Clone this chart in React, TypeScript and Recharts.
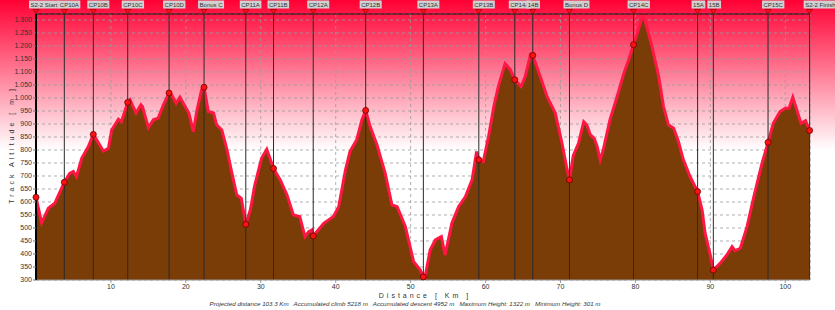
import React from 'react';
import { ComposedChart, Area, XAxis, YAxis, CartesianGrid, ReferenceLine, ReferenceDot } from 'recharts';

const profileKm = [
  0, 0.76, 1.65, 2.5, 3.78, 4.5, 4.98, 5.4, 6.1, 6.99, 7.65, 8.99, 9.66, 10.1, 11.0, 11.4, 12.24, 12.55, 13.35, 14.0,
  14.2, 15.0, 15.66, 16.3, 17.0, 17.76, 18.1, 18.7, 19.2, 19.9, 20.4, 21.0, 21.45, 22.1, 22.43, 23.0, 23.7, 24.1, 24.8, 25.5,
  26.1, 26.8, 27.4, 28.0, 28.6, 29.2, 30.1, 30.8, 31.7, 32.6, 33.5, 34.35, 35.2, 35.9, 36.4, 36.8, 37.0, 38.4, 39.7, 40.4,
  41.3, 41.9, 42.8, 43.5, 44.0, 44.6, 45.5, 46.6, 47.5, 48.2, 49.3, 50.4, 51.3, 51.7, 51.85, 52.6, 53.3, 54.1, 54.6, 55.5,
  56.4, 57.3, 58.2, 58.8, 59.1, 59.7, 60.4, 61.1, 61.7, 62.6, 63.3, 63.9, 64.75, 65.3, 66.0, 66.3, 67.3, 68.2, 69.3, 70.2,
  70.8, 71.2, 71.7, 72.4, 73.1, 73.5, 74.0, 74.5, 74.9, 75.3, 75.7, 76.6, 77.5, 78.4, 79.1, 79.75, 80.4, 81.0, 81.5, 82.2,
  83.1, 83.75, 84.4, 85.1, 85.75, 86.4, 87.3, 88.3, 88.9, 89.3, 90.0, 90.4, 91.3, 92.2, 92.9, 93.3, 94.0, 94.9, 95.8, 96.9,
  97.7, 98.4, 99.3, 100.0, 100.5, 101.0, 101.6, 102.1, 102.7, 103.25,
];
const profileElev = [
  618, 520, 576, 595, 676, 710, 717, 697, 768, 813, 860, 796, 806, 877, 918, 909, 983, 993, 942, 974,
  967, 886, 916, 922, 974, 1019, 1012, 980, 1003, 967, 942, 871, 948, 1032, 1041, 948, 942, 897, 877, 800,
  717, 627, 614, 514, 569, 665, 768, 803, 729, 685, 627, 550, 544, 467, 486, 492, 469, 518, 544, 582,
  723, 794, 839, 916, 952, 890, 820, 711, 589, 582, 505, 370, 338, 312, 301, 415, 454, 467, 396, 518,
  582, 620, 685, 794, 762, 756, 852, 967, 1044, 1132, 1109, 1070, 1044, 1083, 1167, 1164, 1083, 1006, 942, 826,
  736, 685, 778, 826, 909, 897, 858, 845, 813, 762, 800, 916, 1000, 1090, 1147, 1205, 1263, 1322, 1276, 1199,
  1083, 967, 897, 884, 832, 762, 697, 640, 569, 480, 395, 338, 364, 396, 428, 413, 422, 505, 620, 749,
  829, 903, 948, 961, 961, 1003, 948, 903, 913, 875,
];

const cpNames = [
  'S2-2 Start', 'CP10A', 'CP10B', 'CP10C', 'CP10D', 'Bonus C', 'CP11A', 'CP11B', 'CP12A', 'CP12B',
  'CP13A', 'CP13B', 'CP14A', '14B', 'Bonus D', 'CP14C', '15A', '15B', 'CP15C', 'S2-2 Finish',
];
const cpKm = [0, 3.78, 7.65, 12.24, 17.76, 22.43, 28.0, 31.7, 37.0, 44.0, 51.7, 59.1, 63.9, 66.3, 71.2, 79.75, 88.3, 90.4, 97.7, 103.25];
const cpElev = [618, 676, 860, 983, 1019, 1041, 514, 729, 469, 952, 312, 762, 1070, 1164, 685, 1205, 640, 338, 829, 875];

const xTicks = [10, 20, 30, 40, 50, 60, 70, 80, 90, 100];
const yTicks = [300, 350, 400, 450, 500, 550, 600, 650, 700, 750, 800, 850, 900, 950, 1000, 1050, 1100, 1150, 1200, 1250, 1300];

const statsText = 'Projected distance 103.3 Km   Accumulated climb 5218 m   Accumulated descent 4952 m   Maximum Height: 1322 m   Minimum Height: 301 m';

const data = profileKm.map((km, i) => ({ km, elev: profileElev[i] }));

const FONT = '"Liberation Sans", Arial, sans-serif';
const LABEL_FS = 6;

const labelShift: Record<string, number> = { 'S2-2 Start': -1, '14B': -0.5 };

let measureCtx: CanvasRenderingContext2D | null = null;
function textWidth(s: string) {
  try {
    if (!measureCtx) measureCtx = document.createElement('canvas').getContext('2d');
    if (measureCtx) {
      measureCtx.font = `${LABEL_FS}px "Liberation Sans", Arial, sans-serif`;
      return measureCtx.measureText(s).width;
    }
  } catch (e) {
    /* ignore */
  }
  return s.length * 3.3;
}

function CpLabel(props: any) {
  const { viewBox, name } = props;
  if (!viewBox) return null;
  const x = viewBox.x;
  const w = textWidth(name) + 3;
  const start = x - 6 + (labelShift[name] || 0);
  return (
    <g>
      <rect x={start} y={0.5} width={w} height={8} fill="#d0d0d0" />
      <text x={start + 1.5} y={6.8} fontSize={LABEL_FS} fill="#333" fontFamily={FONT}>{name}</text>
      <polygon points={`${x - 3},9.5 ${x + 3},9.5 ${x},13.5`} fill="#ff1010" stroke="#7a0000" strokeWidth={0.6} />
    </g>
  );
}

const fmtY = (v: number) => (v >= 1000 ? `${Math.floor(v / 1000)}.${String(v % 1000).padStart(3, '0')}` : String(v));

export default function App() {
  return (
    <div
      style={{
        position: 'absolute',
        left: 0,
        top: 0,
        width: 835,
        height: 310,
        background: 'linear-gradient(to bottom, #ff0033 0px, #ffffff 150px, #ffffff 310px)',
        fontFamily: FONT,
        overflow: 'hidden',
      }}
    >
      <ComposedChart width={835} height={310} data={data} margin={{ top: 14, right: 25, left: 0, bottom: 0 }}>
        <CartesianGrid strokeDasharray="3 3" stroke="#9a9a9a" strokeWidth={0.8} />
        <XAxis
          type="number"
          dataKey="km"
          domain={[0, 103.3]}
          ticks={xTicks}
          interval={0}
          allowDataOverflow
          height={30}
          tickSize={3}
          tickMargin={1}
          stroke="#999"
          tick={{ fontSize: 7, fill: '#333', fontFamily: FONT }}
        />
        <YAxis
          type="number"
          domain={[300, 1323]}
          ticks={yTicks}
          interval={0}
          allowDataOverflow
          width={36}
          tickSize={3}
          tickMargin={1}
          tickFormatter={fmtY}
          axisLine={{ stroke: '#000', strokeWidth: 2 }}
          tickLine={{ stroke: '#777' }}
          tick={{ fontSize: 7, fill: '#333', fontFamily: FONT }}
        />
        <Area
          type="linear"
          dataKey="elev"
          stroke="#ff1744"
          strokeWidth={3}
          fill="#7a3d08"
          fillOpacity={1}
          dot={false}
          activeDot={false}
          isAnimationActive={false}
        />
        <ReferenceLine y={1323} stroke="#111" strokeWidth={1.2} />
        {cpKm.map((km, i) => (
          <ReferenceLine
            key={cpNames[i]}
            x={km}
            stroke="#2a2a2a"
            strokeWidth={1}
            label={<CpLabel name={cpNames[i]} />}
          />
        ))}
        {cpKm.map((km, i) => (
          <ReferenceDot
            key={'d' + cpNames[i]}
            x={km}
            y={cpElev[i]}
            r={3}
            fill="#ff1010"
            stroke="#6a0000"
            strokeWidth={0.8}
          />
        ))}
      </ComposedChart>
      <div
        style={{
          position: 'absolute',
          left: 11,
          top: 145,
          transform: 'translate(-50%, -50%) rotate(-90deg)',
          fontSize: 7,
          letterSpacing: 3,
          whiteSpace: 'nowrap',
          color: '#333',
        }}
      >
        Track Altitude [ m ]
      </div>
      <div
        style={{
          position: 'absolute',
          left: 425,
          top: 295,
          transform: 'translate(-50%, -50%)',
          fontSize: 7,
          letterSpacing: 3,
          whiteSpace: 'nowrap',
          color: '#333',
        }}
      >
        Distance [ Km ]
      </div>
      <div
        style={{
          position: 'absolute',
          left: 405,
          top: 303,
          transform: 'translate(-50%, -50%)',
          fontSize: 6.2,
          fontStyle: 'italic',
          whiteSpace: 'pre',
          color: '#333',
        }}
      >
        {statsText}
      </div>
    </div>
  );
}
